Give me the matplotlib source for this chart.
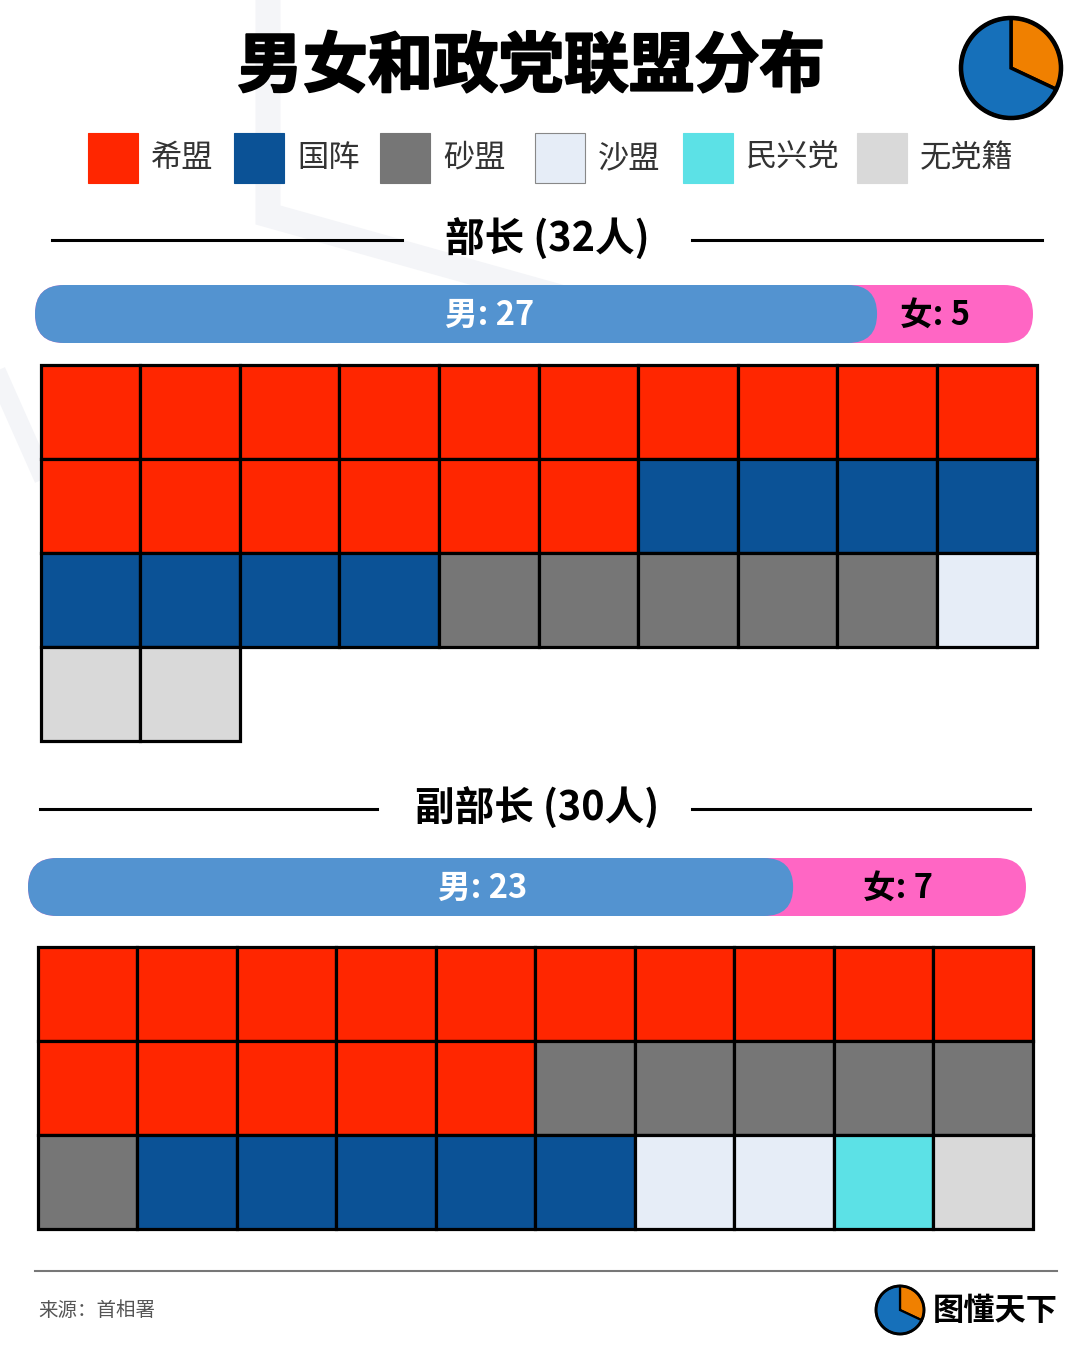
import matplotlib
matplotlib.use("Agg")
import matplotlib.pyplot as plt
from matplotlib.patches import Rectangle, FancyBboxPatch, Wedge, Circle
import matplotlib.patheffects as pe

plt.rcParams['font.family'] = ['Noto Sans CJK SC', 'DejaVu Sans']

# ---------------- data ----------------
title = "男女和政党联盟分布"
parties = ["希盟", "国阵", "砂盟", "沙盟", "民兴党", "无党籍"]
party_colors = ["#FF2600", "#0B5296", "#767676", "#E6EDF7", "#5CE1E6", "#D9D9D9"]

group1_title = "部长 (32人)"
group1_order = ["希盟", "国阵", "砂盟", "沙盟", "无党籍"]
group1_counts = [16, 8, 5, 1, 2]
group1_male = 27
group1_female = 5

group2_title = "副部长 (30人)"
group2_order = ["希盟", "砂盟", "国阵", "沙盟", "民兴党", "无党籍"]
group2_counts = [15, 6, 5, 2, 1, 1]
group2_male = 23
group2_female = 7

source = "来源：首相署"
brand = "图懂天下"
logo_share = [0.68, 0.32]   # blue, orange

# ---------------- figure ----------------
fig = plt.figure(figsize=(10.8, 13.5), dpi=100)
ax = fig.add_axes([0, 0, 1, 1])
ax.set_xlim(0, 1080)
ax.set_ylim(1350, 0)
ax.axis('off')

color_of = dict(zip(parties, party_colors))

# faint background decoration
ax.plot([268, 268, 660], [0, 215, 325], color="#F4F5F8", lw=18, solid_capstyle='butt',
        solid_joinstyle='miter', zorder=0)
ax.plot([0, 40], [380, 470], color="#F4F5F8", lw=14, zorder=0)

# title
ax.text(531, 67, title, ha='center', va='center', fontsize=47, fontweight='black', color='black',
        path_effects=[pe.withStroke(linewidth=1.5, foreground='black')])


# pie logos (y axis inverted: top of circle is -90 deg, clockwise = increasing angle)
def pie_logo(cx, cy, r, lw):
    blue, orange = logo_share
    a0 = -90
    a1 = a0 + orange * 360
    ax.add_patch(Wedge((cx, cy), r, a0, a1, facecolor="#F08000", edgecolor='black', lw=lw, zorder=5))
    ax.add_patch(Wedge((cx, cy), r, a1, a0 + 360, facecolor="#1670BA", edgecolor='black', lw=lw, zorder=5))
    ax.add_patch(Circle((cx, cy), r, facecolor='none', edgecolor='black', lw=lw * 1.3, zorder=6))


pie_logo(1011, 68, 50, 2.5)

# legend
leg_sq_x = [88, 234, 380, 535, 683, 857]
for px, name, col in zip(leg_sq_x, parties, party_colors):
    ec = "#888888" if name == "沙盟" else col
    ax.add_patch(Rectangle((px, 133), 50, 50, facecolor=col, edgecolor=ec, lw=0.8))
    ax.text(px + 63, 158, name, ha='left', va='center', fontsize=22.5, fontweight='light', color='#333333')


def section(y, label, lx0, lx1, rx0, rx1, cx):
    ax.plot([lx0, lx1], [y, y], color='black', lw=2.2)
    ax.plot([rx0, rx1], [y, y], color='black', lw=2.2)
    ax.text(cx, y, label, ha='center', va='center', fontsize=28.5, fontweight='black', color='black')


def gender_bar(x0, x1, y, h, male, female, mlx, flx):
    total = male + female
    w = x1 - x0
    mw = w * male / total
    ax.add_patch(FancyBboxPatch((x0, y), w, h, boxstyle=f"round,pad=0,rounding_size={h/2}",
                                facecolor="#FF66C4", edgecolor='none', zorder=2))
    ax.add_patch(FancyBboxPatch((x0, y), mw, h, boxstyle=f"round,pad=0,rounding_size={h/2}",
                                facecolor="#5393D0", edgecolor='none', zorder=3))
    ax.text(mlx, y + h / 2 + 1, f"男: {male}", ha='center', va='center', fontsize=23.5,
            fontweight='black', color='white', zorder=4)
    ax.text(flx, y + h / 2 + 1, f"女: {female}", ha='center', va='center', fontsize=23.5,
            fontweight='black', color='black', zorder=4)


def waffle(x0, y0, cw, ch, order, counts, ncol=10):
    i = 0
    for name, n in zip(order, counts):
        for _ in range(n):
            r, c = divmod(i, ncol)
            ax.add_patch(Rectangle((x0 + c * cw, y0 + r * ch), cw, ch, facecolor=color_of[name],
                                   edgecolor='black', lw=2.3, zorder=3))
            i += 1


# group 1
section(240, group1_title, 52, 402, 692, 1042, 547)
gender_bar(35, 1033, 285, 58, group1_male, group1_female, 490, 935)
waffle(40.5, 364.5, 99.6, 94, group1_order, group1_counts)

# group 2
section(809, group2_title, 40, 377, 692, 1030, 537)
gender_bar(28, 1026, 858, 58, group2_male, group2_female, 483, 898)
waffle(37.5, 947, 99.5, 94, group2_order, group2_counts)

# footer
ax.plot([35, 1057], [1271, 1271], color='#777777', lw=1.5)
ax.text(38, 1311, source, ha='left', va='center', fontsize=14, fontweight='light', color='#555555')
pie_logo(900, 1310, 24, 1.6)
ax.text(933, 1311, brand, ha='left', va='center', fontsize=22.5, fontweight='black', color='black')

fig.savefig("out.png", dpi=100, facecolor='white')
